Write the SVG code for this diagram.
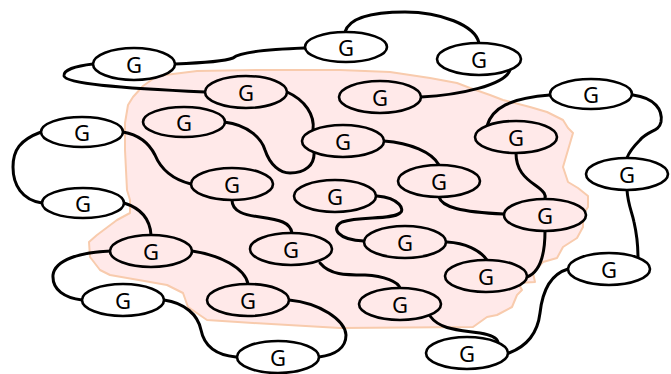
<svg xmlns="http://www.w3.org/2000/svg" width="671" height="374" viewBox="0 0 671 374">
<style>
.n ellipse{stroke:#000;stroke-width:2.6}
.o ellipse{fill:#fff}
.i ellipse{fill:#FFE9E9}
.n text{font-family:"Noto Sans","Open Sans",sans-serif;font-size:22px;fill:#000;text-anchor:middle;dominant-baseline:central}
#edges path{fill:none;stroke:#000;stroke-width:3;stroke-linecap:round}
</style>
<g id="region">
<path d="M133,97 L143,86 L157,76 L197,71 L260,70 L340,70 L390,72 L430,78 L457,83 L470,88 L490,95 L503,100 L530,107 L547,112 L563,120 L568,128 L573,133 L568,150 L563,167 L568,182 L578,188 L588,196 L588,207 L583,215 L583,227 L577,238 L563,247 L557,258 L543,262 L533,273 L535,282 L518,283 L522,290 L517,295 L512,307 L497,315 L487,317 L473,327 L340,328 L253,323 L207,320 L188,307 L183,293 L167,285 L150,282 L110,275 L100,270 L90,257 L89,242 L97,235 L117,220 L130,213 L130,200 L127,190 L125,150 L125,123 L128,105 Z" fill="#FFE9E9" stroke="#F8CBAD" stroke-width="2" stroke-linejoin="round"/>
</g>
<g id="edges">
<path d="M175,64 C200,63 225,61 233,58 C240,52 275,49 305,48"/>
<path d="M93,64 C75,66 63,70 64,76 C66,84 120,88 205,92"/>
<path d="M345,32 C350,15 380,12 405,12 C440,12 475,25 479,43"/>
<path d="M510,70 C505,85 460,95 421,97"/>
<path d="M287,92 C305,100 315,115 313,130"/>
<path d="M224,122 C250,125 262,140 265,150 C270,165 280,173 290,173 C305,173 315,165 314,152"/>
<path d="M41,132 C20,140 13,150 13,167 C13,185 22,200 42,203"/>
<path d="M123,132 C140,135 150,145 155,155 C162,172 175,180 191,184"/>
<path d="M124,203 C140,208 150,218 151,235"/>
<path d="M111,251 C80,252 55,260 53,275 C52,290 65,298 82,300"/>
<path d="M192,251 C220,255 245,268 248,284"/>
<path d="M164,300 C185,303 198,315 201,330 C204,345 215,355 236,357"/>
<path d="M289,300 C320,303 345,320 346,335 C346,348 335,355 319,357"/>
<path d="M232,200 C232,212 245,215 260,217 C280,220 290,222 292,233"/>
<path d="M320,263 C330,275 345,275 365,275 C385,276 398,282 400,288"/>
<path d="M384,141 C410,143 432,152 439,165"/>
<path d="M377,196 C400,198 405,210 400,213 C392,220 360,216 342,222 C330,228 338,240 364,241"/>
<path d="M439,197 C442,207 460,212 504,214"/>
<path d="M447,242 C465,243 480,250 487,260"/>
<path d="M487,126 C492,108 510,98 550,95"/>
<path d="M516,153 C516,170 525,178 535,185 C545,192 546,195 545,199"/>
<path d="M633,95 C655,98 663,110 661,122 C659,132 648,130 640,140 C632,148 628,155 627,158"/>
<path d="M627,190 C628,205 632,212 634,222 C637,235 638,245 638,258"/>
<path d="M545,231 C545,255 540,272 527,277"/>
<path d="M430,316 C440,330 460,330 480,333 C492,335 497,338 498,342"/>
<path d="M509,353 C530,345 538,330 540,313 C542,295 548,275 568,269"/>
</g>
<g id="n1" class="n o"><ellipse cx="134" cy="64" rx="41" ry="16"/><text x="134" y="64">G</text></g>
<g id="n2" class="n o"><ellipse cx="346" cy="47" rx="41" ry="15"/><text x="346" y="47">G</text></g>
<g id="n3" class="n o"><ellipse cx="479" cy="59" rx="42" ry="16"/><text x="479" y="59">G</text></g>
<g id="n4" class="n o"><ellipse cx="591" cy="94" rx="41" ry="15"/><text x="591" y="94">G</text></g>
<g id="n5" class="n o"><ellipse cx="627" cy="174" rx="41" ry="16"/><text x="627" y="174">G</text></g>
<g id="n6" class="n o"><ellipse cx="82" cy="132" rx="41" ry="15"/><text x="82" y="132">G</text></g>
<g id="n7" class="n o"><ellipse cx="83" cy="203" rx="41" ry="15"/><text x="83" y="203">G</text></g>
<g id="n8" class="n o"><ellipse cx="123" cy="300" rx="41" ry="16"/><text x="123" y="300">G</text></g>
<g id="n9" class="n o"><ellipse cx="278" cy="357" rx="41" ry="16"/><text x="278" y="357">G</text></g>
<g id="n10" class="n o"><ellipse cx="467" cy="353" rx="41" ry="16"/><text x="467" y="353">G</text></g>
<g id="n11" class="n o"><ellipse cx="609" cy="269" rx="41" ry="16"/><text x="609" y="269">G</text></g>
<g id="n12" class="n i"><ellipse cx="246" cy="92" rx="41" ry="16"/><text x="246" y="92">G</text></g>
<g id="n13" class="n i"><ellipse cx="184" cy="122" rx="41" ry="15"/><text x="184" y="122">G</text></g>
<g id="n14" class="n i"><ellipse cx="380" cy="97" rx="41" ry="16"/><text x="380" y="97">G</text></g>
<g id="n15" class="n i"><ellipse cx="343" cy="141" rx="41" ry="16"/><text x="343" y="141">G</text></g>
<g id="n16" class="n i"><ellipse cx="516" cy="137" rx="41" ry="16"/><text x="516" y="137">G</text></g>
<g id="n17" class="n i"><ellipse cx="232" cy="184" rx="41" ry="16"/><text x="232" y="184">G</text></g>
<g id="n18" class="n i"><ellipse cx="335" cy="196" rx="41" ry="16"/><text x="335" y="196">G</text></g>
<g id="n19" class="n i"><ellipse cx="439" cy="181" rx="41" ry="16"/><text x="439" y="181">G</text></g>
<g id="n20" class="n i"><ellipse cx="545" cy="215" rx="41" ry="16"/><text x="545" y="215">G</text></g>
<g id="n21" class="n i"><ellipse cx="405" cy="242" rx="41" ry="16"/><text x="405" y="242">G</text></g>
<g id="n22" class="n i"><ellipse cx="486" cy="276" rx="41" ry="16"/><text x="486" y="276">G</text></g>
<g id="n23" class="n i"><ellipse cx="291" cy="249" rx="41" ry="16"/><text x="291" y="249">G</text></g>
<g id="n24" class="n i"><ellipse cx="151" cy="251" rx="41" ry="16"/><text x="151" y="251">G</text></g>
<g id="n25" class="n i"><ellipse cx="248" cy="300" rx="41" ry="16"/><text x="248" y="300">G</text></g>
<g id="n26" class="n i"><ellipse cx="400" cy="304" rx="41" ry="16"/><text x="400" y="304">G</text></g>
</svg>
